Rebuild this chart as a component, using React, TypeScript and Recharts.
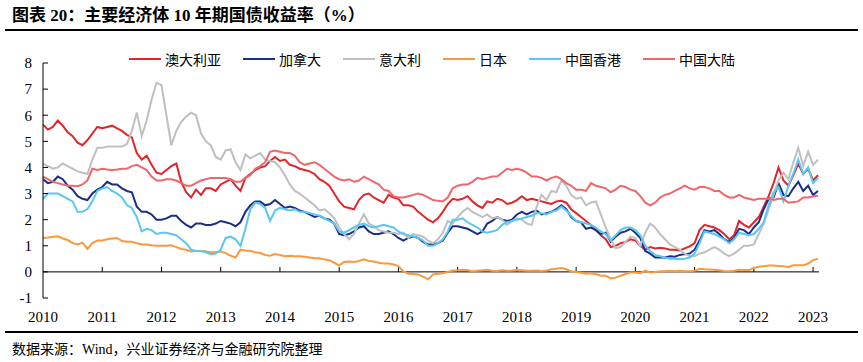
import { LineChart, Line, XAxis, YAxis, ReferenceLine } from 'recharts'

// monthly readings, Jan 2010 .. Feb 2023
const START_YEAR = 2010
const yearTicks = [2010, 2011, 2012, 2013, 2014, 2015, 2016, 2017, 2018, 2019, 2020, 2021, 2022, 2023]
const yTicks = [-1, 0, 1, 2, 3, 4, 5, 6, 7, 8]

const aus = [
  5.64, 5.45, 5.55, 5.8, 5.6, 5.35, 5.2, 4.95, 4.85, 5.05, 5.3, 5.55,
  5.5, 5.55, 5.6, 5.5, 5.4, 5.25, 5.15, 4.55, 4.3, 4.45, 4.1, 3.8,
  3.75, 3.9, 4.05, 4.15, 3.45, 3.05, 2.85, 3.15, 2.95, 3.2, 3.2, 3.1,
  3.35, 3.45, 3.55, 3.3, 3.1, 3.6, 3.75, 3.9, 4.0, 4.05, 4.25, 4.4,
  4.25, 4.3, 4.1, 4.05, 3.95, 3.9, 3.85, 3.75, 3.55, 3.45, 3.3, 3.0,
  2.7, 2.5, 2.45, 2.4, 2.75, 2.95, 3.0, 2.85, 2.75, 2.65, 2.95, 2.85,
  2.8, 2.55, 2.55, 2.5, 2.3, 2.15, 2.0, 1.9, 2.05, 2.3, 2.6, 2.8,
  2.75, 2.8, 2.9, 2.7, 2.55, 2.45, 2.7, 2.65, 2.8, 2.75, 2.6, 2.65,
  2.75, 2.9, 2.75, 2.8, 2.75, 2.7, 2.65, 2.6, 2.7, 2.72, 2.65, 2.4,
  2.25, 2.1, 1.95, 1.8, 1.6, 1.4, 1.25, 0.95, 1.0, 1.1, 1.15, 1.25,
  1.2, 1.0, 0.85, 0.95, 0.9, 0.92, 0.9, 0.85, 0.85, 0.82, 0.9, 0.98,
  1.1, 1.6, 1.8, 1.75, 1.7, 1.6, 1.45, 1.25, 1.4, 1.95, 1.8, 1.7,
  1.9, 2.1, 2.5, 2.9, 3.4, 4.0, 3.5, 3.3, 3.7, 4.15, 3.75, 3.95,
  3.5, 3.7,
]

const can = [
  3.55, 3.4, 3.45, 3.65, 3.55, 3.3, 3.15, 2.9, 2.8, 2.75, 3.0, 3.15,
  3.25, 3.45, 3.35, 3.35, 3.2, 3.1, 3.05, 2.5, 2.3, 2.3, 2.2, 2.0,
  2.0, 2.05, 2.15, 2.15, 1.95, 1.8, 1.7, 1.85, 1.85, 1.8, 1.8, 1.85,
  1.95, 1.9, 1.85, 1.75, 1.9, 2.3, 2.55, 2.7, 2.7, 2.55, 2.6, 2.75,
  2.6, 2.45, 2.5, 2.45, 2.35, 2.3, 2.2, 2.1, 2.15, 2.05, 2.0, 1.85,
  1.45, 1.4, 1.45, 1.55, 1.7, 1.75, 1.55, 1.45, 1.45, 1.5, 1.55, 1.45,
  1.3, 1.2, 1.3, 1.35, 1.3, 1.15, 1.05, 1.05, 1.1, 1.2, 1.5, 1.75,
  1.75, 1.7, 1.65, 1.55, 1.45, 1.55, 1.85, 1.95, 2.1, 2.0, 1.95, 2.0,
  2.2, 2.3, 2.2, 2.3, 2.35, 2.2, 2.25, 2.3, 2.4, 2.55, 2.4, 2.1,
  1.95, 1.9, 1.65, 1.7, 1.6, 1.45, 1.5, 1.15, 1.35, 1.5, 1.55, 1.65,
  1.5, 1.3, 0.8, 0.7, 0.55, 0.55, 0.55, 0.6, 0.58, 0.65, 0.68, 0.7,
  0.85, 1.2, 1.6, 1.55, 1.6, 1.45, 1.25, 1.15, 1.3, 1.65, 1.6, 1.45,
  1.7, 1.9, 2.4, 2.8, 2.85, 3.4, 2.95, 2.9, 3.2, 3.45, 3.1, 3.3,
  2.95, 3.1,
]

const ita = [
  4.15, 4.05, 3.95, 4.0, 4.15, 4.05, 3.95, 3.85, 3.8, 3.75, 4.3, 4.75,
  4.75, 4.8, 4.8, 4.8, 4.8, 4.9, 5.4, 6.1, 5.2, 5.8, 6.6, 7.25,
  7.15, 6.0, 4.85, 5.4, 5.75, 5.95, 6.1, 6.0, 5.3, 5.0, 4.85, 4.4,
  4.3, 4.65, 4.7, 4.2, 3.9, 4.5, 4.35, 4.45, 4.55, 4.3, 4.25, 4.2,
  4.0, 3.7, 3.35, 3.1, 3.0, 2.85, 2.7, 2.55, 2.35, 2.4, 2.25, 2.05,
  1.7, 1.45, 1.25, 1.45, 1.85, 2.2, 1.85, 1.75, 1.6, 1.55, 1.5, 1.5,
  1.45, 1.5, 1.3, 1.45, 1.4, 1.35, 1.2, 1.1, 1.25, 1.5, 1.95, 1.85,
  2.1, 2.3, 2.45, 2.3, 2.2, 2.1, 2.2, 2.05, 2.1, 2.0, 1.8, 1.95,
  2.05, 2.0, 1.85, 1.8, 2.5, 2.95, 2.75, 3.1, 3.05, 3.5, 3.3, 2.95,
  2.8, 2.85, 2.55, 2.65, 2.7, 2.2, 1.7, 1.25, 0.9, 0.95, 1.15, 1.35,
  1.3, 1.0, 1.5, 1.85, 1.7, 1.45, 1.25, 1.05, 0.95, 0.85, 0.7, 0.6,
  0.6, 0.7, 0.75, 0.85, 0.95, 0.85, 0.7, 0.6, 0.7, 0.85, 1.0, 1.0,
  1.05, 1.45, 1.85, 2.4, 2.95, 3.5, 3.8, 3.55, 4.2, 4.75, 4.05, 4.6,
  4.1, 4.3,
]

const jpn = [
  1.3, 1.32, 1.35, 1.36, 1.28, 1.22, 1.1, 1.05, 1.12, 0.88, 1.1, 1.2,
  1.2, 1.25, 1.28, 1.3, 1.18, 1.15, 1.15, 1.1, 1.05, 1.05, 1.02, 1.0,
  1.0, 1.0, 1.02, 0.95, 0.88, 0.85, 0.78, 0.8, 0.8, 0.78, 0.75, 0.75,
  0.78, 0.72, 0.62, 0.55, 0.85, 0.82, 0.8, 0.75, 0.72, 0.65, 0.62, 0.68,
  0.65, 0.6, 0.62, 0.6, 0.6, 0.58, 0.55, 0.52, 0.52, 0.48, 0.45, 0.35,
  0.25, 0.38, 0.4, 0.38, 0.42, 0.48, 0.42, 0.4, 0.35, 0.32, 0.32, 0.28,
  0.22, 0.02, -0.07, -0.08, -0.1, -0.18, -0.28, -0.1, -0.07, -0.05, 0.0, 0.05,
  0.06, 0.08, 0.07, 0.02, 0.04, 0.06, 0.08, 0.04, 0.03, 0.06, 0.04, 0.05,
  0.07, 0.06, 0.04, 0.04, 0.05, 0.03, 0.05, 0.1, 0.12, 0.15, 0.1, 0.02,
  0.0, -0.03, -0.07, -0.05, -0.08, -0.15, -0.15, -0.25, -0.22, -0.15, -0.08, -0.02,
  -0.02, -0.05, 0.05, -0.02, 0.0, 0.02, 0.02, 0.04, 0.02, 0.04, 0.02, 0.02,
  0.04, 0.12, 0.1, 0.09, 0.08, 0.06, 0.03, 0.02, 0.04, 0.08, 0.07, 0.07,
  0.15, 0.2, 0.22, 0.24, 0.24, 0.23, 0.22, 0.18, 0.25, 0.25, 0.25, 0.32,
  0.45, 0.5,
]

const hk = [
  2.8, 3.0, 3.0, 3.0, 2.9, 2.8, 2.7, 2.3, 2.3, 2.4, 2.7, 3.1,
  3.2, 3.25, 3.1, 3.0, 2.85, 2.55, 2.45, 2.1, 1.55, 1.65, 1.6, 1.45,
  1.5, 1.5, 1.45, 1.4, 1.25, 1.1, 0.85, 0.8, 0.8, 0.75, 0.68, 0.7,
  0.85, 1.3, 1.35, 1.25, 1.0, 1.65, 2.4, 2.65, 2.6, 2.45, 1.95, 2.35,
  2.45, 2.4, 2.35, 2.4, 2.3, 2.3, 2.25, 2.2, 2.15, 2.05, 1.95, 1.85,
  1.55, 1.5, 1.6, 1.7, 1.8, 1.85, 1.75, 1.7, 1.75, 1.8, 1.75, 1.7,
  1.55, 1.45, 1.4, 1.35, 1.3, 1.2, 1.0, 1.0, 1.1, 1.25, 1.55, 2.0,
  2.0, 2.05, 1.9, 1.8, 1.7, 1.55, 1.5, 1.55, 1.6, 1.8, 1.9, 1.95,
  2.0, 2.05, 2.1, 2.15, 2.25, 2.25, 2.2, 2.3, 2.35, 2.5, 2.35, 2.15,
  1.95, 1.9, 1.85, 1.8, 1.7, 1.55, 1.45, 1.2, 1.4, 1.6, 1.7, 1.7,
  1.6, 1.4, 1.0, 0.8, 0.65, 0.6, 0.55, 0.5, 0.5, 0.48, 0.5, 0.55,
  0.7, 1.1, 1.55, 1.5, 1.45, 1.35, 1.25, 1.1, 1.25, 1.5, 1.45, 1.4,
  1.45, 1.65, 1.9, 2.55, 3.05, 3.25, 2.7, 3.3, 3.75, 4.3, 3.75, 4.0,
  3.4, 3.6,
]

const chn = [
  3.65, 3.55, 3.45, 3.4, 3.35, 3.3, 3.3, 3.28, 3.35, 3.5, 3.95, 3.9,
  3.95, 3.92, 3.9, 3.92, 3.95, 3.95, 4.05, 4.1, 4.0, 3.9, 3.65, 3.5,
  3.5, 3.55, 3.55, 3.5, 3.4, 3.3, 3.3, 3.4, 3.5, 3.55, 3.6, 3.6,
  3.6, 3.6, 3.55, 3.45, 3.45, 3.6, 3.7, 3.95, 4.05, 4.2, 4.6, 4.65,
  4.6, 4.55, 4.55, 4.45, 4.2, 4.1, 4.15, 4.2, 4.1, 3.95, 3.8, 3.65,
  3.55, 3.5, 3.55, 3.45, 3.5, 3.65, 3.55, 3.45, 3.35, 3.15, 3.1, 2.9,
  2.85, 2.85, 2.9, 2.95, 3.0, 2.95, 2.85, 2.75, 2.72, 2.7, 2.85, 3.2,
  3.3, 3.35, 3.35, 3.45, 3.6, 3.55, 3.6, 3.65, 3.65, 3.8, 3.95, 3.9,
  3.95, 3.9, 3.8, 3.65, 3.65, 3.6, 3.5, 3.6, 3.65, 3.55, 3.4, 3.3,
  3.15, 3.15, 3.1, 3.4, 3.3, 3.25, 3.2, 3.05, 3.15, 3.3, 3.25, 3.15,
  3.1, 2.9, 2.65, 2.55, 2.65, 2.85, 2.95, 3.0, 3.1, 3.2, 3.3, 3.2,
  3.15, 3.25, 3.25, 3.2, 3.1, 3.1, 2.95, 2.85, 2.85, 2.95, 2.85, 2.8,
  2.75, 2.8, 2.8, 2.8, 2.75, 2.8, 2.8, 2.65, 2.68, 2.7, 2.85, 2.85,
  2.9, 2.92,
]

const series = [
  { key: 'aus', name: '澳大利亚', color: '#E3242B', values: aus },
  { key: 'can', name: '加拿大', color: '#1C2E86', values: can },
  { key: 'ita', name: '意大利', color: '#BFBFBF', values: ita },
  { key: 'jpn', name: '日本', color: '#FA9A3C', values: jpn },
  { key: 'hk', name: '中国香港', color: '#58C7F3', values: hk },
  { key: 'chn', name: '中国大陆', color: '#F0676B', values: chn },
]

const data = aus.map((_, i) => {
  const row: Record<string, number> = { x: START_YEAR + i / 12 }
  series.forEach((s) => {
    row[s.key] = s.values[i]
  })
  return row
})

const serif = "'Liberation Serif', 'Times New Roman', serif"
const mixed = "'Liberation Serif', 'Noto Sans CJK SC', serif"
const cjk = "'Noto Sans CJK SC', sans-serif"

export default function App() {
  return (
    <div style={{ position: 'absolute', left: 0, top: 0, width: 863, height: 362, background: '#fff', overflow: 'hidden' }}>
      <div style={{ position: 'absolute', left: 12, top: 4, fontSize: 17, fontWeight: 700, lineHeight: '24px', fontFamily: mixed, color: '#000', whiteSpace: 'nowrap' }}>
        图表 20：主要经济体 10 年期国债收益率（%）
      </div>
      <div style={{ position: 'absolute', left: 5, top: 29, width: 853, height: 1.5, background: '#000' }} />

      <div style={{ position: 'absolute', left: 0, top: 0 }}>
        <LineChart width={863} height={330} data={data} margin={{ top: 63, right: 44, bottom: 2, left: 0 }}>
          <XAxis
            dataKey="x"
            type="number"
            domain={[2010, 2023.1]}
            ticks={yearTicks}
            interval={0}
            allowDataOverflow
            axisLine={false}
            tickLine={false}
            tickSize={0}
            tickMargin={13}
            height={30}
            tick={{ fill: '#000', fontSize: 15, fontFamily: serif }}
          />
          <YAxis
            type="number"
            domain={[-1, 8]}
            ticks={yTicks}
            interval={0}
            width={43}
            tickSize={-5}
            tickMargin={16}
            axisLine={{ stroke: '#000' }}
            tickLine={{ stroke: '#000' }}
            tick={{ fill: '#000', fontSize: 15, fontFamily: serif }}
          />
          <ReferenceLine y={0} stroke="#000" strokeWidth={1} />
          {yearTicks.slice(1).map((yr) => (
            <ReferenceLine
              key={yr}
              segment={[{ x: yr, y: 0 }, { x: yr, y: 0.19 }]}
              stroke="#000"
              strokeWidth={1}
            />
          ))}
          {series.map((s) => (
            <Line
              key={s.key}
              type="linear"
              dataKey={s.key}
              name={s.name}
              stroke={s.color}
              strokeWidth={2}
              dot={false}
              isAnimationActive={false}
            />
          ))}
        </LineChart>
      </div>

      {/* legend */}
      <div style={{ position: 'absolute', left: 129, top: 50, height: 18, display: 'flex', alignItems: 'center', fontFamily: cjk, fontSize: 14, color: '#000' }}>
        {series.map((s) => (
          <div key={s.key} style={{ display: 'flex', alignItems: 'center', marginRight: 22 }}>
            <span style={{ display: 'inline-block', width: 32, height: 2.5, background: s.color, marginRight: 4 }} />
            <span style={{ whiteSpace: 'nowrap', lineHeight: '18px' }}>{s.name}</span>
          </div>
        ))}
      </div>

      <div style={{ position: 'absolute', left: 5, top: 331, width: 853, height: 1.5, background: '#000' }} />
      <div style={{ position: 'absolute', left: 12, top: 340, fontSize: 14, lineHeight: '20px', fontFamily: mixed, color: '#000', whiteSpace: 'nowrap' }}>
        数据来源：Wind，兴业证券经济与金融研究院整理
      </div>
    </div>
  )
}
